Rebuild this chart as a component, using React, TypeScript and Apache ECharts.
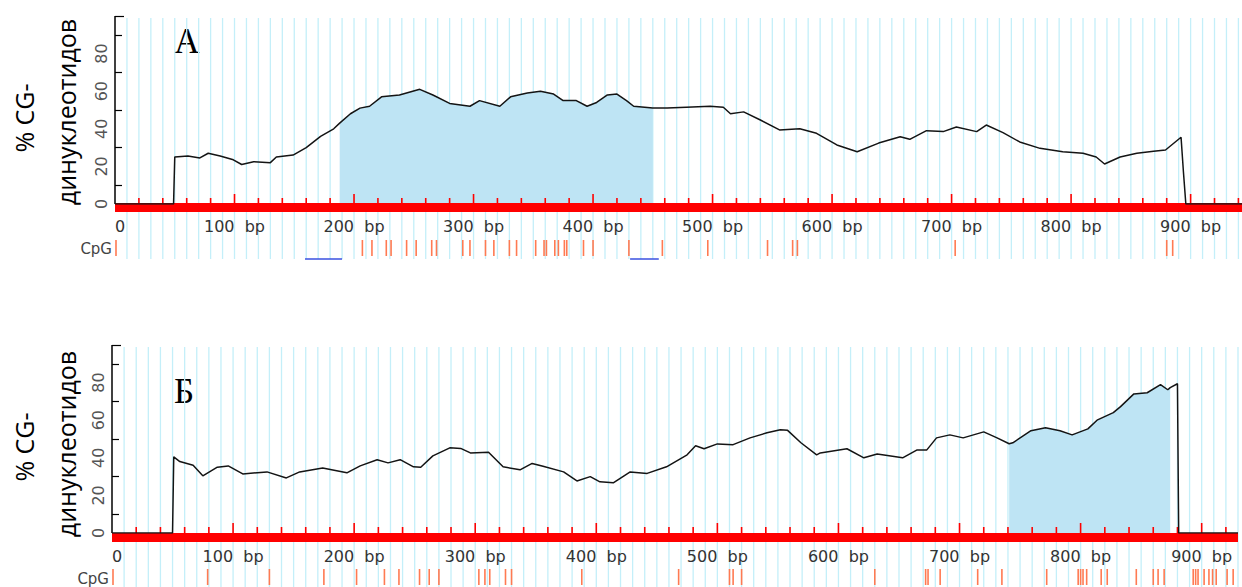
import { useEffect, useRef } from 'react';
import * as echarts from 'echarts';

// CpG dinucleotide content along the sequence, panel А: [position (bp), %]
const profileA: [number, number][] = [
  [0, 0], [49, 0], [50, 25], [61, 25.5], [71, 24.5], [78, 27], [88, 25.5], [99, 23.5],
  [106, 21], [116, 22.5], [130, 22], [135, 25], [149, 26], [160, 30], [172, 36], [183, 40],
  [188, 43], [197, 48], [205, 51], [213, 52], [223, 57], [238, 58], [255, 61], [266, 58],
  [280, 53.5], [297, 52], [305, 55], [322, 52], [331, 57], [345, 59], [356, 60], [367, 58.5],
  [375, 55], [386, 55], [395, 52], [403, 54], [412, 58], [420, 58.5], [428, 55], [434, 52],
  [450, 51], [462, 51], [478, 51.5], [498, 52], [509, 51.5], [515, 48], [526, 49], [540, 44.7],
  [556, 39.4], [573, 40], [587, 37.6], [604, 31.4], [621, 27.8], [639, 32.4], [657, 35.8],
  [665, 34.4], [679, 39], [693, 38.5], [704, 41], [721, 38.5], [729, 42], [743, 38], [757, 33],
  [774, 29.6], [793, 27.8], [810, 27], [821, 25], [828, 21.3], [841, 25], [855, 27], [869, 28],
  [879, 28.7], [892, 35.5], [894, 17], [896, 0], [943, 0],
];

// Panel Б profile
const profileB: [number, number][] = [
  [0, 0], [50, 0], [51, 40.5], [56, 38], [67, 36], [75, 30.4], [87, 35], [96, 35.7],
  [108, 31.4], [128, 32.5], [144, 29.3], [155, 32.5], [174, 34.6], [194, 32], [205, 35.7],
  [219, 39], [228, 37.3], [238, 39], [249, 35.2], [255, 35], [265, 41], [279, 45.3], [288, 45],
  [296, 42.6], [311, 43], [323, 35.2], [337, 33.6], [347, 37], [356, 35.5], [373, 32.5],
  [384, 27.7], [395, 30], [403, 27.2], [414, 26.7], [428, 32.5], [442, 31.7], [458, 35.2],
  [475, 41.6], [482, 46.4], [489, 44.8], [500, 47.4], [513, 47], [527, 50.6], [541, 53.3],
  [552, 54.9], [558, 54.6], [569, 48], [582, 41.6], [585, 42.6], [607, 44.8], [621, 40],
  [632, 42], [653, 40], [665, 44.2], [673, 44.2], [681, 50.6], [692, 52.2], [703, 50.6],
  [720, 53.8], [731, 50.6], [741, 47.5], [744, 48], [759, 54.4], [771, 56], [783, 54.4],
  [793, 52.2], [806, 55.4], [814, 60.2], [827, 64], [833, 67.2], [844, 74], [855, 74.6],
  [866, 78.9], [872, 76.2], [874, 77.3], [880, 79.4], [881, 0], [930, 0],
];

// Predicted CpG islands (start, end in bp)
const islandA: [number, number] = [188, 450];
const islandB: [number, number] = [741, 874];

// Individual CpG site positions (bp)
const cpgSitesA = [
  0, 207, 215, 227, 231, 244, 252, 265, 269, 291, 297, 310, 317, 330, 336, 352, 359, 361,
  368, 371, 376, 378, 392, 400, 430, 458, 496, 546, 567, 571, 703, 880, 885,
];
const cpgSitesB = [
  0, 79, 130, 175, 202, 225, 237, 254, 262, 270, 303, 308, 312, 325, 330, 388, 468, 510,
  513, 520, 630, 672, 674, 684, 715, 735, 772, 798, 800, 802, 805, 817, 822, 846, 860, 864,
  869, 893, 895, 897, 902, 906, 909, 912, 921, 926,
];

// Primer-region bars under the CpG track of panel А
const primerSpansA: [number, number][] = [[159, 190], [431, 455]];

const seqLengthA = 943;
const seqLengthB = 930;

const panelLetters = ['А', 'Б'];
const yTitleLines = ['% CG-', 'динуклеотидов'];
const trackLabel = 'CpG';

const CYAN = '#c4eff9';
const FILL = '#bee4f4';
const RED = '#ff0000';
const CPG_COLOR = '#ff7a52';
const BLUE = '#3a50e0';

type Panel = {
  profile: [number, number][];
  island: [number, number];
  sites: number[];
  spans: [number, number][];
  length: number;
  left: number;
  top: number;
  width: number;
  height: number;
  barOffset: number;
  gridDepth: number;
};

const panels: Panel[] = [
  {
    profile: profileA, island: islandA, sites: cpgSitesA, spans: primerSpansA,
    length: seqLengthA, left: 115, top: 16, width: 1127, height: 188, barOffset: 3.7, gridDepth: 55,
  },
  {
    profile: profileB, island: islandB, sites: cpgSitesB, spans: [],
    length: seqLengthB, left: 112, top: 345, width: 1126, height: 188, barOffset: 4.5, gridDepth: 60,
  },
];

function stepsUpTo(step: number, limit: number, from: number) {
  const out: number[] = [];
  for (let v = from; v <= limit; v += step) out.push(v);
  return out;
}

function buildOption() {
  const grid: any[] = [];
  const xAxis: any[] = [];
  const yAxis: any[] = [];
  const series: any[] = [];

  panels.forEach((p, i) => {
    grid.push({ left: p.left, top: p.top, width: p.width, height: p.height, containLabel: false });

    xAxis.push({
      type: 'value',
      gridIndex: i,
      min: 0,
      max: p.length,
      interval: 100,
      offset: p.barOffset,
      z: 2,
      axisLine: { show: true, onZero: false, lineStyle: { color: RED, width: 9, cap: 'butt' } },
      axisTick: { show: false },
      splitLine: { show: false },
      axisLabel: {
        showMaxLabel: false,
        alignMinLabel: 'left',
        margin: 11,
        color: '#333',
        fontSize: 16,
        fontFamily: 'DejaVu Sans',
        formatter: (v: number) => (v === 0 ? '0' : `${v}  bp`),
      },
    });

    yAxis.push({
      type: 'value',
      gridIndex: i,
      min: 0,
      max: 100,
      interval: 20,
      z: 3,
      axisLine: { show: true, lineStyle: { color: '#000', width: 1.5, cap: 'butt' } },
      axisTick: { show: true, inside: true, length: 9, customValues: [100], lineStyle: { color: '#000', width: 1.2 } },
      minorTick: { show: true, splitNumber: 2, length: 7, lineStyle: { color: '#000', width: 1.2 } },
      splitLine: { show: false },
      minorSplitLine: { show: false },
      axisLabel: {
        rotate: 90,
        margin: 6,
        showMaxLabel: false,
        color: '#555',
        fontSize: 16,
        fontFamily: 'DejaVu Sans',
      },
    });

    // light vertical rulings every 10 bp, running down through the CpG track
    series.push({
      type: 'custom',
      xAxisIndex: i,
      yAxisIndex: i,
      z: 0,
      silent: true,
      data: stepsUpTo(10, p.length, 10).map((v) => [v, 0]),
      renderItem: (_params: any, api: any) => {
        const v = api.value(0);
        const top = api.coord([v, 100]);
        const base = api.coord([v, 0]);
        return {
          type: 'line',
          shape: { x1: top[0], y1: top[1] + 2, x2: top[0], y2: base[1] + p.gridDepth },
          style: { stroke: CYAN, lineWidth: 1.3 },
        };
      },
    });

    // island shading under the profile
    series.push({
      type: 'line',
      xAxisIndex: i,
      yAxisIndex: i,
      z: 1,
      silent: true,
      showSymbol: false,
      symbol: 'none',
      lineStyle: { width: 0, opacity: 0 },
      areaStyle: { color: FILL, opacity: 1 },
      data: p.profile.filter(([x]) => x >= p.island[0] && x <= p.island[1]),
    });

    // red ruler ticks on the sequence bar: every 20 bp, taller every 100 bp
    series.push({
      type: 'custom',
      xAxisIndex: i,
      yAxisIndex: i,
      z: 4,
      silent: true,
      data: stepsUpTo(20, p.length, 20).map((v) => [v, 0]),
      renderItem: (_params: any, api: any) => {
        const v = api.value(0);
        const base = api.coord([v, 0]);
        const len = v % 100 === 0 ? 10 : 6;
        return {
          type: 'line',
          shape: { x1: base[0], y1: base[1] + 1, x2: base[0], y2: base[1] - len },
          style: { stroke: RED, lineWidth: 1.6 },
        };
      },
    });

    // CpG site marks
    series.push({
      type: 'custom',
      xAxisIndex: i,
      yAxisIndex: i,
      z: 4,
      silent: true,
      data: p.sites.map((v) => [v, 0]),
      renderItem: (_params: any, api: any) => {
        const v = api.value(0);
        const base = api.coord([v, 0]);
        const x = Math.max(base[0], p.left + 1);
        return {
          type: 'line',
          shape: { x1: x, y1: base[1] + 36, x2: x, y2: base[1] + 52 },
          style: { stroke: CPG_COLOR, lineWidth: 1.6 },
        };
      },
    });

    if (p.spans.length) {
      series.push({
        type: 'custom',
        xAxisIndex: i,
        yAxisIndex: i,
        z: 4,
        silent: true,
        data: p.spans.map(([s, e]) => [s, e]),
        renderItem: (_params: any, api: any) => {
          const a = api.coord([api.value(0), 0]);
          const b = api.coord([api.value(1), 0]);
          return {
            type: 'line',
            shape: { x1: a[0], y1: a[1] + 55, x2: b[0], y2: a[1] + 55 },
            style: { stroke: BLUE, lineWidth: 1.5 },
          };
        },
      });
    }

    // the CpG content profile
    series.push({
      type: 'line',
      xAxisIndex: i,
      yAxisIndex: i,
      z: 5,
      silent: true,
      showSymbol: false,
      symbol: 'none',
      lineStyle: { color: '#141414', width: 1.5 },
      data: p.profile,
    });
  });

  const graphic: any[] = [];
  const titleCenters = [
    [[24, 118], [66, 112]],
    [[24, 447], [66, 444]],
  ];
  const letterPos = [[187, 41], [184, 391]];
  const labelPos = [[112, 249], [109, 579]];
  panels.forEach((_p, i) => {
    yTitleLines.forEach((line, k) => {
      graphic.push({
        type: 'text',
        x: titleCenters[i][k][0],
        y: titleCenters[i][k][1],
        rotation: Math.PI / 2,
        silent: true,
        style: {
          text: line,
          fontFamily: 'Open Sans',
          fontSize: 25,
          fill: '#000',
          align: 'center',
          verticalAlign: 'middle',
        },
      });
    });
    graphic.push({
      type: 'text',
      x: letterPos[i][0],
      y: letterPos[i][1],
      silent: true,
      style: {
        text: panelLetters[i],
        fontFamily: 'Liberation Serif',
        fontSize: 35,
        fill: '#000',
        align: 'center',
        verticalAlign: 'middle',
      },
    });
    graphic.push({
      type: 'text',
      x: labelPos[i][0],
      y: labelPos[i][1],
      silent: true,
      style: {
        text: trackLabel,
        fontFamily: 'DejaVu Sans',
        fontSize: 15,
        fill: '#444',
        align: 'right',
        verticalAlign: 'middle',
      },
    });
  });

  return {
    animation: false,
    backgroundColor: '#ffffff',
    grid,
    xAxis,
    yAxis,
    series,
    graphic,
  };
}

export default function App() {
  const ref = useRef<HTMLDivElement>(null);
  useEffect(() => {
    if (!ref.current) return;
    const chart = echarts.init(ref.current, undefined, { renderer: 'svg' });
    chart.setOption(buildOption() as any);
    return () => chart.dispose();
  }, []);
  return (
    <div
      ref={ref}
      style={{ position: 'absolute', left: 0, top: 0, width: 1242, height: 587, background: '#fff' }}
    />
  );
}
